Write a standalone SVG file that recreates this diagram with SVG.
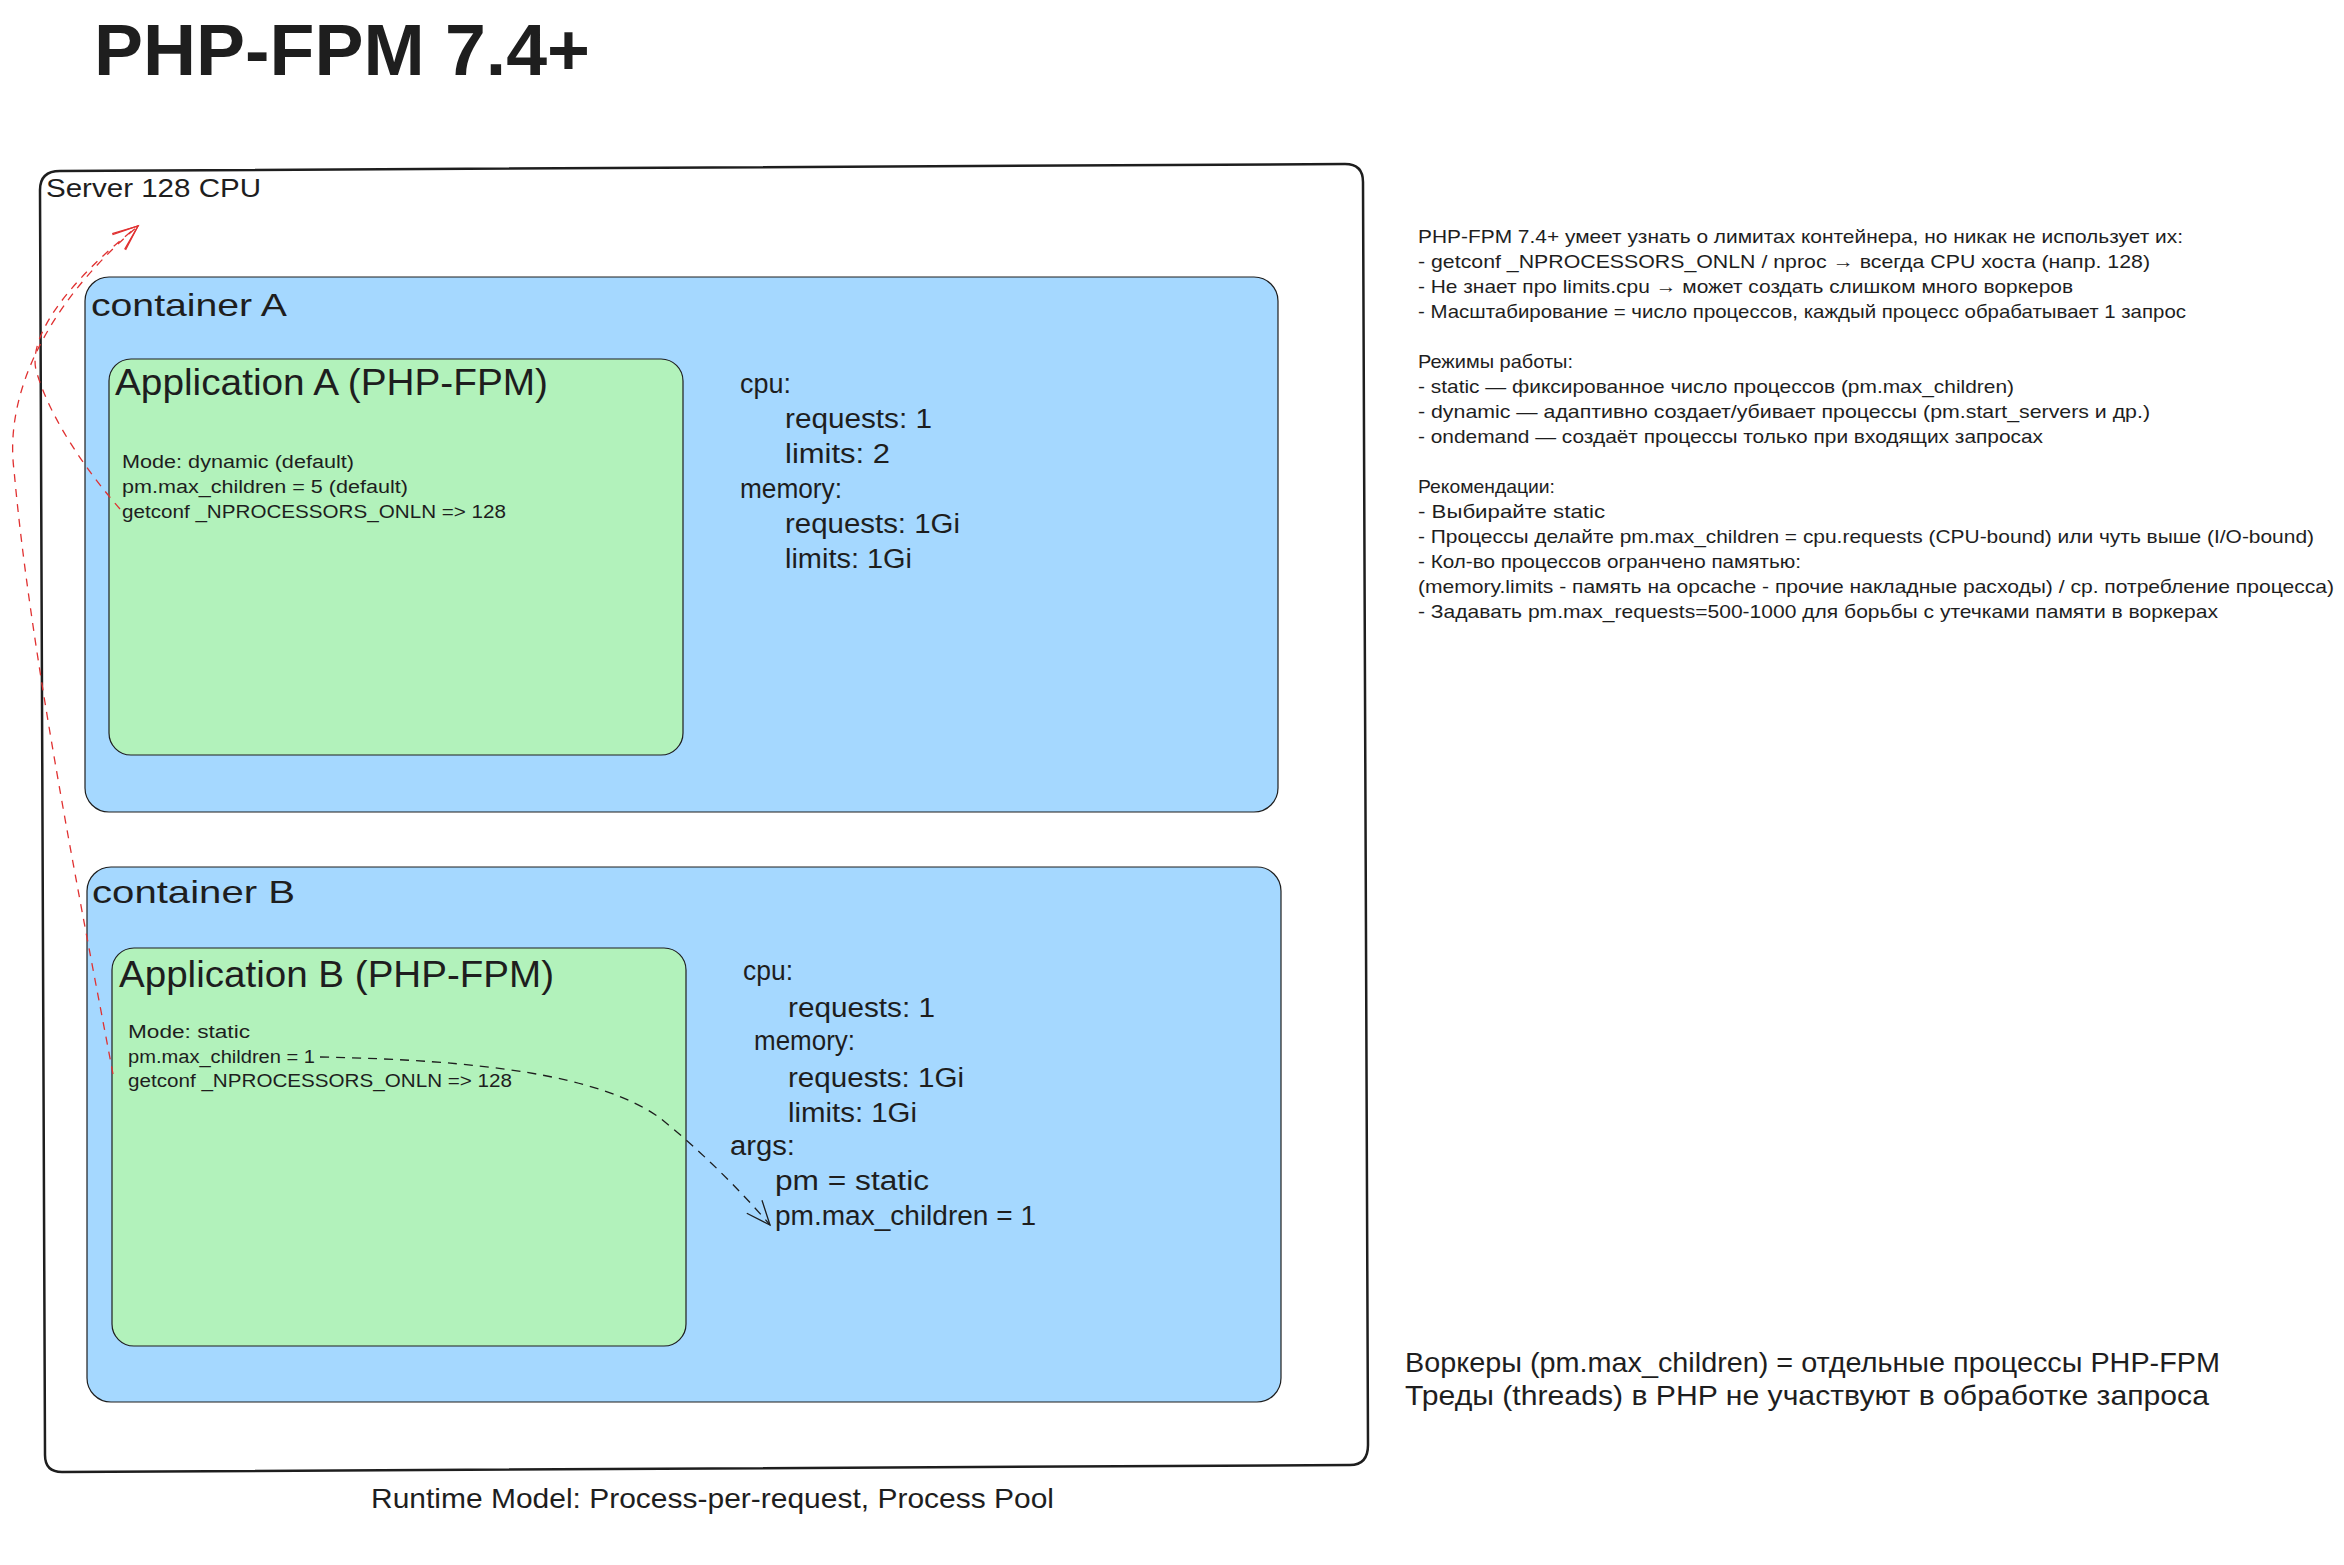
<svg xmlns="http://www.w3.org/2000/svg" width="2344" height="1565" viewBox="0 0 2344 1565">
<style>
text{font-family:"Liberation Sans","DejaVu Sans","Noto Sans CJK SC",sans-serif;fill:#1e1e1e}
.title{font-size:72px;font-weight:bold}
.srv{font-size:26px}
.cont{font-size:32px}
.app{font-size:36px}
.small{font-size:18px}
.res{font-size:27px}
.note{font-size:19px}
.big{font-size:28px}
.box{stroke:#1e1e1e;stroke-width:1.2}
.blue{fill:#a5d8ff}
.green{fill:#b2f2bb}
.red{fill:none;stroke:#e03131;stroke-width:1.3;stroke-dasharray:8 7}
.blk{fill:none;stroke:#1e1e1e;stroke-width:1.3;stroke-dasharray:9 7}
</style>
<defs>
<marker id="arrRed" markerUnits="userSpaceOnUse" markerWidth="40" markerHeight="40" refX="0" refY="0" viewBox="-30 -20 40 40" orient="auto" overflow="visible">
<path d="M-25,-10 L0,0 L-25,10" fill="none" stroke="#e03131" stroke-width="1.3"/>
</marker>
<marker id="arrBlk" markerUnits="userSpaceOnUse" markerWidth="40" markerHeight="40" refX="0" refY="0" viewBox="-30 -20 40 40" orient="auto" overflow="visible">
<path d="M-24,-10 L0,0 L-24,10" fill="none" stroke="#1e1e1e" stroke-width="1.3"/>
</marker>
</defs>
<rect width="2344" height="1565" fill="#ffffff"/>

<text class="title" x="94" y="75" textLength="496" lengthAdjust="spacingAndGlyphs">PHP-FPM 7.4+</text>

<g id="server">
<path d="M40,190 Q40,171 60,171 L1345,164 Q1363,164 1363,182 L1368,1445 Q1368,1465 1350,1465 L62,1472 Q45,1472 45,1455 Z" fill="#ffffff" stroke="#1e1e1e" stroke-width="2.5"/>
<text class="srv" x="46" y="197" textLength="215" lengthAdjust="spacingAndGlyphs">Server 128 CPU</text>
</g>

<g id="containerA">
<rect class="box blue" x="85" y="277" width="1193" height="535" rx="24"/>
<text class="cont" x="91" y="316" textLength="196" lengthAdjust="spacingAndGlyphs">container A</text>
<text class="res" x="740" y="393" textLength="51" lengthAdjust="spacingAndGlyphs">cpu:</text>
<text class="res" x="785" y="428" textLength="147" lengthAdjust="spacingAndGlyphs">requests: 1</text>
<text class="res" x="785" y="463" textLength="105" lengthAdjust="spacingAndGlyphs">limits: 2</text>
<text class="res" x="740" y="498" textLength="102" lengthAdjust="spacingAndGlyphs">memory:</text>
<text class="res" x="785" y="533" textLength="175" lengthAdjust="spacingAndGlyphs">requests: 1Gi</text>
<text class="res" x="785" y="568" textLength="127" lengthAdjust="spacingAndGlyphs">limits: 1Gi</text>
</g>

<g id="appA">
<rect class="box green" x="109" y="359" width="574" height="396" rx="22"/>
<text class="app" x="115" y="395" textLength="433" lengthAdjust="spacingAndGlyphs">Application A (PHP-FPM)</text>
<text class="small" x="122" y="468" textLength="232" lengthAdjust="spacingAndGlyphs">Mode: dynamic (default)</text>
<text class="small" x="122" y="493" textLength="286" lengthAdjust="spacingAndGlyphs">pm.max_children = 5 (default)</text>
<text class="small" x="122" y="518" textLength="384" lengthAdjust="spacingAndGlyphs">getconf _NPROCESSORS_ONLN =&gt; 128</text>
</g>

<g id="containerB">
<rect class="box blue" x="87" y="867" width="1194" height="535" rx="24"/>
<text class="cont" x="92" y="903" textLength="203" lengthAdjust="spacingAndGlyphs">container B</text>
<text class="res" x="743" y="980" textLength="50" lengthAdjust="spacingAndGlyphs">cpu:</text>
<text class="res" x="788" y="1017" textLength="147" lengthAdjust="spacingAndGlyphs">requests: 1</text>
<text class="res" x="754" y="1050" textLength="101" lengthAdjust="spacingAndGlyphs">memory:</text>
<text class="res" x="788" y="1087" textLength="176" lengthAdjust="spacingAndGlyphs">requests: 1Gi</text>
<text class="res" x="788" y="1122" textLength="129" lengthAdjust="spacingAndGlyphs">limits: 1Gi</text>
<text class="res" x="730" y="1155" textLength="65" lengthAdjust="spacingAndGlyphs">args:</text>
<text class="res" x="775" y="1190" textLength="154" lengthAdjust="spacingAndGlyphs">pm = static</text>
<text class="res" x="775" y="1225" textLength="261" lengthAdjust="spacingAndGlyphs">pm.max_children = 1</text>
</g>

<g id="appB">
<rect class="box green" x="112" y="948" width="574" height="398" rx="22"/>
<text class="app" x="119" y="987" textLength="435" lengthAdjust="spacingAndGlyphs">Application B (PHP-FPM)</text>
<text class="small" x="128" y="1038" textLength="122" lengthAdjust="spacingAndGlyphs">Mode: static</text>
<text class="small" x="128" y="1063" textLength="187" lengthAdjust="spacingAndGlyphs">pm.max_children = 1</text>
<text class="small" x="128" y="1087" textLength="384" lengthAdjust="spacingAndGlyphs">getconf _NPROCESSORS_ONLN =&gt; 128</text>
</g>

<g id="connectors">
<path class="red" d="M120,509 C90,475 50,420 36,370 C28,335 70,280 138,226" marker-end="url(#arrRed)"/>
<path class="red" d="M113,1074 C80,900 30,650 14,470 C5,400 40,310 138,226" marker-end="url(#arrRed)"/>
<path class="blk" d="M320,1057 C480,1060 600,1075 660,1118 C700,1150 740,1190 770,1225" marker-end="url(#arrBlk)"/>
</g>

<g id="notes">
<text class="note" x="1418" y="243" textLength="765" lengthAdjust="spacingAndGlyphs">PHP-FPM 7.4+ умеет узнать о лимитах контейнера, но никак не использует их:</text>
<text class="note" x="1418" y="268" textLength="732" lengthAdjust="spacingAndGlyphs">- getconf _NPROCESSORS_ONLN / nproc → всегда CPU хоста (напр. 128)</text>
<text class="note" x="1418" y="293" textLength="655" lengthAdjust="spacingAndGlyphs">- Не знает про limits.cpu → может создать слишком много воркеров</text>
<text class="note" x="1418" y="318" textLength="768" lengthAdjust="spacingAndGlyphs">- Масштабирование = число процессов, каждый процесс обрабатывает 1 запрос</text>
<text class="note" x="1418" y="368" textLength="155" lengthAdjust="spacingAndGlyphs">Режимы работы:</text>
<text class="note" x="1418" y="393" textLength="596" lengthAdjust="spacingAndGlyphs">- static — фиксированное число процессов (pm.max_children)</text>
<text class="note" x="1418" y="418" textLength="732" lengthAdjust="spacingAndGlyphs">- dynamic — адаптивно создает/убивает процессы (pm.start_servers и др.)</text>
<text class="note" x="1418" y="443" textLength="625" lengthAdjust="spacingAndGlyphs">- ondemand — создаёт процессы только при входящих запросах</text>
<text class="note" x="1418" y="493" textLength="137" lengthAdjust="spacingAndGlyphs">Рекомендации:</text>
<text class="note" x="1418" y="518" textLength="187" lengthAdjust="spacingAndGlyphs">- Выбирайте static</text>
<text class="note" x="1418" y="543" textLength="896" lengthAdjust="spacingAndGlyphs">- Процессы делайте pm.max_children = cpu.requests (CPU-bound) или чуть выше (I/O-bound)</text>
<text class="note" x="1418" y="568" textLength="383" lengthAdjust="spacingAndGlyphs">- Кол-во процессов огранчено памятью:</text>
<text class="note" x="1418" y="593" textLength="916" lengthAdjust="spacingAndGlyphs">(memory.limits - память на opcache - прочие накладные расходы) / ср. потребление процесса)</text>
<text class="note" x="1418" y="618" textLength="800" lengthAdjust="spacingAndGlyphs">- Задавать pm.max_requests=500-1000 для борьбы с утечками памяти в воркерах</text>
<text class="big" x="1405" y="1372" textLength="815" lengthAdjust="spacingAndGlyphs">Воркеры (pm.max_children) = отдельные процессы PHP-FPM</text>
<text class="big" x="1405" y="1405" textLength="804" lengthAdjust="spacingAndGlyphs">Треды (threads) в PHP не участвуют в обработке запроса</text>
<text class="big" x="371" y="1508" textLength="683" lengthAdjust="spacingAndGlyphs">Runtime Model: Process-per-request, Process Pool</text>
</g>
</svg>
